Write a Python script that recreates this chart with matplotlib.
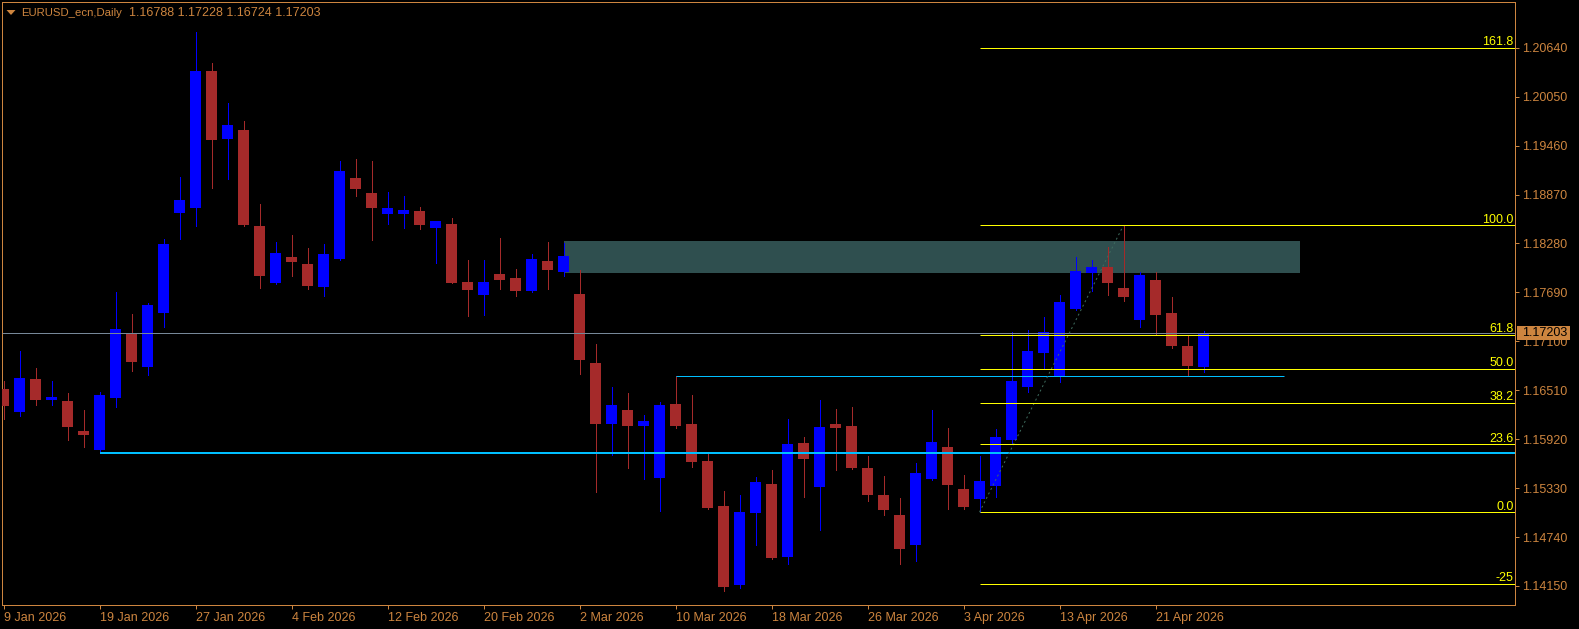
import matplotlib
matplotlib.use("Agg")
import matplotlib.pyplot as plt
from matplotlib.patches import Rectangle, Polygon

# ---------------- data ----------------
chart_title = "EURUSD_ecn,Daily  1.16788 1.17228 1.16724 1.17203"

opens = [1.16525, 1.16251, 1.16645, 1.16396, 1.16380, 1.16018, 1.15793, 1.16419, 1.17188, 1.16790,
         1.17441, 1.18647, 1.18711, 1.20359, 1.19539, 1.19647, 1.18490, 1.17803, 1.18117, 1.18032,
         1.17755, 1.18093, 1.19069, 1.18888, 1.18635, 1.18635, 1.18671, 1.18467, 1.18515, 1.17815,
         1.17658, 1.17912, 1.17864, 1.17707, 1.18068, 1.17936, 1.17671, 1.16838, 1.16103, 1.16271,
         1.16078, 1.15452, 1.16344, 1.16103, 1.15656, 1.15115, 1.14162, 1.15030, 1.15379, 1.14500,
         1.15873, 1.15343, 1.16103, 1.16078, 1.15572, 1.15247, 1.15006, 1.14644, 1.15439, 1.15825,
         1.15319, 1.15199, 1.15355, 1.15910, 1.16549, 1.16959, 1.16682, 1.17489, 1.17924, 1.17996,
         1.17743, 1.17357, 1.17839, 1.17441, 1.17043, 1.16788]

highs = [1.16621, 1.16983, 1.16778, 1.16621, 1.16477, 1.16271, 1.16489, 1.17695, 1.17429, 1.17562,
         1.18334, 1.19081, 1.20829, 1.20455, 1.19973, 1.19756, 1.18756, 1.18298, 1.18382, 1.18225,
         1.18273, 1.19273, 1.19298, 1.19273, 1.18900, 1.18852, 1.18720, 1.18551, 1.18587, 1.18081,
         1.18081, 1.18346, 1.17972, 1.18153, 1.18298, 1.18286, 1.17960, 1.17067, 1.16549, 1.16477,
         1.16211, 1.16368, 1.16682, 1.16452, 1.15741, 1.15296, 1.15247, 1.15464, 1.15548, 1.16163,
         1.15946, 1.16392, 1.16283, 1.16308, 1.15717, 1.15476, 1.15211, 1.15632, 1.16271, 1.16054,
         1.15488, 1.15717, 1.16042, 1.17212, 1.17236, 1.17393, 1.17658, 1.18117, 1.18081, 1.18237,
         1.18500, 1.17936, 1.17936, 1.17634, 1.17164, 1.17228]

lows = [1.16166, 1.16199, 1.16332, 1.16332, 1.15913, 1.15829, 1.15756, 1.16308, 1.16745, 1.16697,
        1.17272, 1.18334, 1.18490, 1.18952, 1.19056, 1.18490, 1.17743, 1.17791, 1.17888, 1.17731,
        1.17646, 1.18081, 1.18852, 1.18322, 1.18515, 1.18467, 1.18454, 1.18044, 1.17800, 1.17405,
        1.17417, 1.17731, 1.17646, 1.17695, 1.17731, 1.17888, 1.16706, 1.15283, 1.15729, 1.15572,
        1.15439, 1.15054, 1.16054, 1.15584, 1.15078, 1.14090, 1.14126, 1.14644, 1.14476, 1.14415,
        1.15223, 1.14825, 1.15548, 1.15560, 1.15175, 1.15006, 1.14415, 1.14451, 1.15427, 1.15078,
        1.15078, 1.15040, 1.15223, 1.15861, 1.16489, 1.16766, 1.16609, 1.17480, 1.17707, 1.17658,
        1.17586, 1.17272, 1.17176, 1.17019, 1.16682, 1.16724]

closes = [1.16323, 1.16658, 1.16396, 1.16428, 1.16070, 1.15973, 1.16452, 1.17248, 1.16854, 1.17538,
          1.18273, 1.18804, 1.20359, 1.19530, 1.19708, 1.18503, 1.17888, 1.18165, 1.18056, 1.17767,
          1.18153, 1.19153, 1.18936, 1.18708, 1.18708, 1.18683, 1.18503, 1.18551, 1.17803, 1.17719,
          1.17815, 1.17839, 1.17707, 1.18093, 1.17960, 1.18129, 1.16875, 1.16103, 1.16332, 1.16078,
          1.16139, 1.16332, 1.16078, 1.15644, 1.15091, 1.14138, 1.15042, 1.15403, 1.14488, 1.15861,
          1.15681, 1.16066, 1.16054, 1.15572, 1.15247, 1.15066, 1.14596, 1.15512, 1.15886, 1.15367,
          1.15103, 1.15415, 1.15946, 1.16621, 1.16983, 1.17212, 1.17574, 1.17948, 1.17996, 1.17803,
          1.17634, 1.17900, 1.17417, 1.17043, 1.16802, 1.17203]

date_tick_bars = [0, 6, 12, 18, 24, 30, 36, 42, 48, 54, 60, 66, 72]
date_tick_labels = ["9 Jan 2026", "19 Jan 2026", "27 Jan 2026", "4 Feb 2026", "12 Feb 2026",
                    "20 Feb 2026", "2 Mar 2026", "10 Mar 2026", "18 Mar 2026", "26 Mar 2026",
                    "3 Apr 2026", "13 Apr 2026", "21 Apr 2026"]
price_ticks = [1.14150, 1.14740, 1.15330, 1.15920, 1.16510, 1.17100,
               1.17690, 1.18280, 1.18870, 1.19460, 1.20050, 1.20640]

current_price = 1.17203
support_price = 1.15756      # thick cyan line
support_start_bar = 6
resist_price = 1.16682       # thin cyan line
resist_bars = (42, 80)
zone_prices = (1.17927, 1.18310)
zone_bars = (35, 81)
fib_anchor_bars = (61, 70)
fib_low, fib_high = 1.15040, 1.18500
fib_levels = [-25.0, 0.0, 23.6, 38.2, 50.0, 61.8, 100.0, 161.8]
fib_labels = ["-25", "0.0", "23.6", "38.2", "50.0", "61.8", "100.0", "161.8"]

# ---------------- style ----------------
W, H = 1579, 629
AX_L, AX_R, AX_T, AX_B = 2, 1515, 2, 605
BAR_PX = 16.0
X0_PX = 3.5
axis_col = "#CD853F"
bull_col = "#0000FF"
bear_col = "#A52A2A"
fib_col = "#FFFF00"
FONT = "Liberation Sans"
FS = 9
PX = 72.0 / 100.0  # points per pixel

fig = plt.figure(figsize=(W / 100, H / 100), dpi=100, facecolor="black")
ax = fig.add_axes([AX_L / W, 1 - AX_B / H, (AX_R - AX_L) / W, (AX_B - AX_T) / H])
ax.set_facecolor("black")

xmin = (AX_L - X0_PX) / BAR_PX
xmax = (AX_R - X0_PX) / BAR_PX
ymin, ymax = 1.139206, 1.211910
ax.set_xlim(xmin, xmax)
ax.set_ylim(ymin, ymax)
ppx = (ymax - ymin) / (AX_B - AX_T)  # price per pixel
bpx = 1.0 / BAR_PX                    # bars per pixel

for s in ax.spines.values():
    s.set_color(axis_col)
    s.set_linewidth(PX)

# zone rectangle (background)
ax.add_patch(Rectangle((zone_bars[0], zone_prices[0]), zone_bars[1] - zone_bars[0],
                       zone_prices[1] - zone_prices[0], facecolor="#2F4F4F",
                       edgecolor="none", zorder=1))

# candles
n = len(opens)
body_w = 11 * bpx
for i in range(n):
    o, h, l, c = opens[i], highs[i], lows[i], closes[i]
    col = bull_col if c >= o else bear_col
    ax.vlines(i, l, h, colors=col, linewidth=PX, zorder=3, antialiased=False)
    bot = min(o, c)
    ht = max(abs(c - o), 1.5 * ppx)
    ax.add_patch(Rectangle((i - body_w / 2, bot), body_w, ht, facecolor=col,
                           edgecolor="none", zorder=4, antialiased=False))

# horizontal lines
ax.hlines(current_price, xmin, xmax, colors="#778899", linewidth=PX, zorder=5)
ax.hlines(support_price, support_start_bar, xmax, colors="#00BFFF", linewidth=2 * PX, zorder=5)
ax.hlines(resist_price, resist_bars[0], resist_bars[1], colors="#00BFFF", linewidth=PX, zorder=5)

# fibonacci
rng = fib_high - fib_low
ax.plot(fib_anchor_bars, [fib_low, fib_high], color="#3E6B5E", linewidth=PX,
        linestyle=(0, (2, 3)), zorder=5)
for lv, lab in zip(fib_levels, fib_labels):
    y = fib_low + lv / 100.0 * rng
    ax.hlines(y, fib_anchor_bars[0], xmax, colors=fib_col, linewidth=PX, zorder=6)
    ax.text(xmax - 1.5 * bpx, y + 2.5 * ppx, lab, color=fib_col, fontsize=FS, family=FONT,
            ha="right", va="baseline", zorder=7)

# axes ticks
ax.yaxis.tick_right()
ax.set_yticks(price_ticks)
ax.set_yticklabels([f"{v:.5f}" for v in price_ticks])
ax.tick_params(axis="y", direction="out", length=4 * PX, width=PX, colors=axis_col,
               pad=3 * PX, labelsize=FS)
ax.set_xticks(date_tick_bars)
ax.set_xticklabels(date_tick_labels)
ax.tick_params(axis="x", direction="out", length=4 * PX, width=PX, colors=axis_col,
               pad=3 * PX, labelsize=FS)
for lbl in ax.get_xticklabels():
    lbl.set_ha("left")
    lbl.set_family(FONT)
for lbl in ax.get_yticklabels():
    lbl.set_family(FONT)

# current price label on the axis
tr = ax.get_yaxis_transform()
axw = float(AX_R - AX_L)
ax.add_patch(Rectangle((1.0 + 1.5 / axw, current_price - 7.5 * ppx), 53.0 / axw, 14 * ppx,
                       transform=tr, facecolor=axis_col, edgecolor="none", clip_on=False, zorder=10))
ax.text(1.0 + 7.0 / axw, current_price - 0.5 * ppx, f"{current_price:.5f}", transform=tr,
        color="black", fontsize=FS, family=FONT, ha="left", va="center", clip_on=False, zorder=11)

# title with triangle
fig.patches.append(Polygon([(6.5 / W, 1 - 10 / H), (15.5 / W, 1 - 10 / H), (11 / W, 1 - 15 / H)],
                           closed=True, transform=fig.transFigure, facecolor=axis_col,
                           edgecolor="none"))
title_name, title_vals = chart_title.split("  ", 1)
fig.text(21 / W, 1 - 13 / H, title_name, color=axis_col, fontsize=8.2, family=FONT,
         ha="left", va="center")
fig.text(129 / W, 1 - 13 / H, title_vals, color=axis_col, fontsize=FS, family=FONT,
         ha="left", va="center")

fig.savefig("out.png", dpi=100, facecolor="black")
